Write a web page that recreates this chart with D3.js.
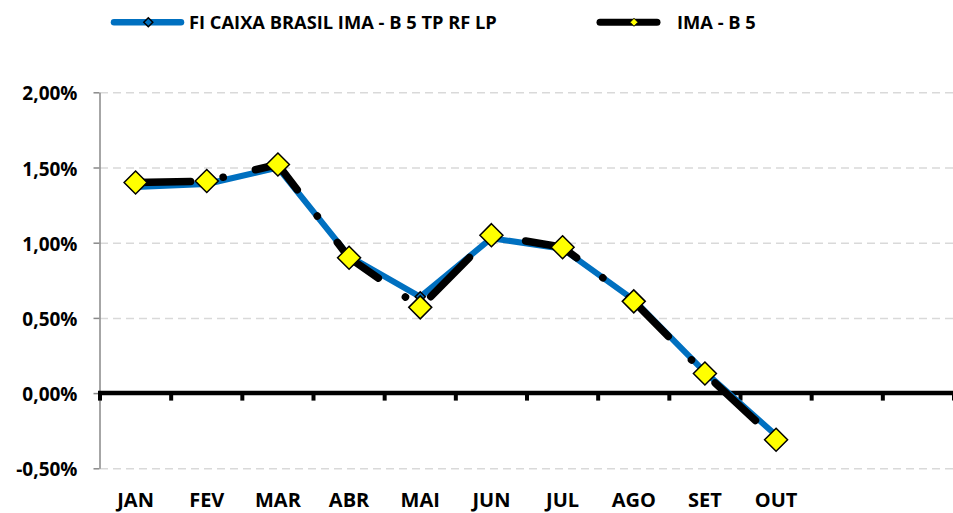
<!DOCTYPE html>
<html>
<head>
<meta charset="utf-8">
<script src="https://cdn.jsdelivr.net/npm/d3@7"></script>
<style>
  body { margin: 0; background: #fff; }
  svg { display: block; }
  text { font-family: "Open Sans", sans-serif; font-weight: bold; fill: #000; }
</style>
</head>
<body>
<div id="chart"></div>
<script>
// months on the x axis (12 slots, only JAN..OUT labelled)
const months = ['JAN', 'FEV', 'MAR', 'ABR', 'MAI', 'JUN', 'JUL', 'AGO', 'SET', 'OUT', 'NOV', 'DEZ'];
const monthLabels = ['JAN', 'FEV', 'MAR', 'ABR', 'MAI', 'JUN', 'JUL', 'AGO', 'SET', 'OUT', '', ''];

// monthly returns in %
const fundo = [1.37, 1.39, 1.50, 0.91, 0.64, 1.03, 0.96, 0.62, 0.14, -0.28];
const imab5 = [1.40, 1.41, 1.52, 0.90, 0.57, 1.05, 0.97, 0.61, 0.13, -0.31];

const yTicks = [-0.5, 0, 0.5, 1.0, 1.5, 2.0];
const seriesNames = ['FI CAIXA BRASIL IMA - B 5 TP RF LP', 'IMA - B 5'];

const width = 953;
const height = 513;
const plot = { left: 100, right: 954, top: 92.3, bottom: 468.3 };

const svg = d3.select('#chart')
  .append('svg')
  .attr('width', width)
  .attr('height', height);

const xScale = d3.scaleBand()
  .domain(months)
  .range([plot.left, plot.right]);

const yScale = d3.scaleLinear()
  .domain([-0.5, 2.0])
  .range([plot.bottom, plot.top]);

const fmt = (d) => d.toFixed(2).replace('.', ',') + '%';

// dashed gridlines
const grid = svg.append('g')
  .attr('transform', `translate(${plot.left}, 0)`)
  .call(d3.axisLeft(yScale).tickValues(yTicks).tickFormat('').tickSize(-(width - plot.left)).tickSizeOuter(0));
grid.select('.domain').remove();
grid.selectAll('line')
  .attr('stroke', '#d9d9d9')
  .attr('stroke-width', 1.5)
  .attr('stroke-dasharray', '8,5');

// y axis
const yAxis = svg.append('g')
  .attr('transform', `translate(${plot.left - 0.5}, 0)`)
  .call(d3.axisLeft(yScale).tickValues(yTicks).tickFormat(fmt).tickSize(6).tickSizeOuter(0).tickPadding(16));
yAxis.select('.domain').attr('stroke', '#898989').attr('stroke-width', 1.5);
yAxis.selectAll('line').attr('stroke', '#898989').attr('stroke-width', 1.5);
yAxis.selectAll('text')
  .attr('font-family', null)
  .attr('font-size', 19)
  .attr('dy', '0.4em');

// zero line with category tick marks
const zeroY = yScale(0);
const edges = months.map((m) => xScale(m)).concat([plot.right]);
svg.append('g')
  .selectAll('line')
  .data(edges)
  .join('line')
  .attr('x1', (d) => d)
  .attr('x2', (d) => d)
  .attr('y1', zeroY)
  .attr('y2', zeroY + 7.5)
  .attr('stroke', '#000')
  .attr('stroke-width', 4);
svg.append('line')
  .attr('x1', plot.left - 2)
  .attr('x2', width)
  .attr('y1', zeroY)
  .attr('y2', zeroY)
  .attr('stroke', '#000')
  .attr('stroke-width', 4.5);

// month labels
const xAxis = svg.append('g')
  .attr('transform', `translate(0, ${plot.bottom})`)
  .call(d3.axisBottom(xScale).tickFormat((d, i) => monthLabels[i]).tickSize(0));
xAxis.select('.domain').remove();
xAxis.selectAll('text')
  .attr('font-family', null)
  .attr('font-size', 20)
  .attr('y', 39)
  .attr('dy', null);

const cx = (d, i) => xScale(months[i]) + xScale.bandwidth() / 2;
const line = d3.line().x(cx).y((d) => yScale(d));
const diamond = (r) => `M0,${-r}L${r},0L0,${r}L${-r},0Z`;

// fund series (blue)
svg.append('path')
  .datum(fundo)
  .attr('d', line)
  .attr('fill', 'none')
  .attr('stroke', '#0070c0')
  .attr('stroke-width', 6)
  .attr('stroke-linejoin', 'round')
  .attr('stroke-linecap', 'round');
svg.append('g')
  .selectAll('path')
  .data(fundo)
  .join('path')
  .attr('transform', (d, i) => `translate(${cx(d, i)}, ${yScale(d)})`)
  .attr('d', diamond(5))
  .attr('fill', '#0070c0')
  .attr('stroke', '#000')
  .attr('stroke-width', 1.5);

// benchmark series (black long dash dot)
svg.append('path')
  .datum(imab5)
  .attr('d', line)
  .attr('fill', 'none')
  .attr('stroke', '#000')
  .attr('stroke-width', 7.5)
  .attr('stroke-linejoin', 'round')
  .attr('stroke-linecap', 'round')
  .attr('stroke-dasharray', '55,33,0.1,33');
svg.append('g')
  .selectAll('path')
  .data(imab5)
  .join('path')
  .attr('transform', (d, i) => `translate(${cx(d, i)}, ${yScale(d)})`)
  .attr('d', diamond(11.5))
  .attr('fill', '#ffff00')
  .attr('stroke', '#000')
  .attr('stroke-width', 1.5);

// legend
const legend = svg.append('g');
const legY = 22.3;
// blue entry
legend.append('line')
  .attr('x1', 114).attr('x2', 181).attr('y1', legY).attr('y2', legY)
  .attr('stroke', '#0070c0').attr('stroke-width', 6.5).attr('stroke-linecap', 'round');
legend.append('path')
  .attr('transform', `translate(148.3, ${legY})`)
  .attr('d', diamond(4.5))
  .attr('fill', '#0070c0').attr('stroke', '#000').attr('stroke-width', 1.5);
legend.append('text')
  .attr('x', 189).attr('y', 29)
  .attr('font-size', 18.3)
  .text(seriesNames[0]);
// black entry
legend.append('line')
  .attr('x1', 600).attr('x2', 657).attr('y1', legY).attr('y2', legY)
  .attr('stroke', '#000').attr('stroke-width', 7).attr('stroke-linecap', 'round');
legend.append('path')
  .attr('transform', `translate(634, ${legY})`)
  .attr('d', diamond(4))
  .attr('fill', '#ffff00').attr('stroke', '#000').attr('stroke-width', 1);
legend.append('text')
  .attr('x', 677).attr('y', 29)
  .attr('font-size', 18.3)
  .text(seriesNames[1]);
</script>
</body>
</html>
